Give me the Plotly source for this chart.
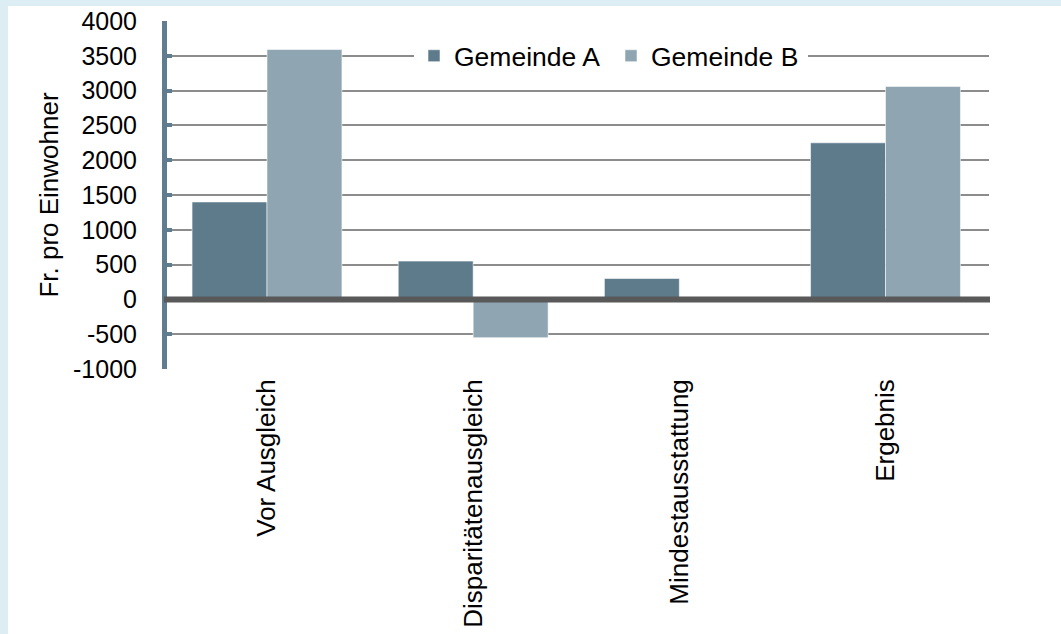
import plotly.graph_objects as go

# Data
categories = ["Vor Ausgleich", "Disparitätenausgleich", "Mindestausstattung", "Ergebnis"]
gemeinde_a = [1400, 550, 300, 2250]
gemeinde_b = [3590, -550, 0, 3060]
series_names = ["Gemeinde A", "Gemeinde B"]
y_ticks = [-1000, -500, 0, 500, 1000, 1500, 2000, 2500, 3000, 3500, 4000]
y_tick_labels = [str(v) for v in y_ticks]

# Styling
W, H = 1061, 634
ML, MR, MT, MB = 167, 72, 21, 265
COLOR_A = "#5E7B8C"
COLOR_B = "#8FA5B1"
AXIS_COLOR = "#5F7D8F"
GRID_COLOR = "#8C8C8C"
ZERO_COLOR = "#595959"
FRAME_COLOR = "#DCEDF4"
FONT = "Liberation Sans, Arial, sans-serif"

fig = go.Figure()
fig.add_trace(go.Bar(
    x=categories, y=gemeinde_a, name=series_names[0],
    marker=dict(color=COLOR_A, line=dict(color="rgba(255,255,255,0.55)", width=1)),
))
fig.add_trace(go.Bar(
    x=categories, y=gemeinde_b, name=series_names[1],
    marker=dict(color=COLOR_B, line=dict(color="rgba(255,255,255,0.55)", width=1)),
))

pw = W - ML - MR
ph = H - MT - MB


def px_to_paper_x(px):
    return (px - ML) / pw


def px_to_paper_y(py):
    return 1 - (py - MT) / ph


shapes = [
    # light blue frame strips at the left and top edge of the page
    dict(type="rect", xref="paper", yref="paper", layer="below",
         x0=px_to_paper_x(0), x1=px_to_paper_x(8),
         y0=px_to_paper_y(H), y1=px_to_paper_y(0),
         fillcolor=FRAME_COLOR, line=dict(width=0)),
    dict(type="rect", xref="paper", yref="paper", layer="below",
         x0=px_to_paper_x(0), x1=px_to_paper_x(W),
         y0=px_to_paper_y(6), y1=px_to_paper_y(0),
         fillcolor=FRAME_COLOR, line=dict(width=0)),
    # heavy zero line drawn over the bars
    dict(type="line", xref="paper", yref="y", layer="above",
         x0=px_to_paper_x(164), x1=px_to_paper_x(990), y0=0, y1=0,
         line=dict(color=ZERO_COLOR, width=6)),
]

fig.update_layout(
    width=W, height=H, autosize=False,
    margin=dict(l=ML, r=MR, t=MT, b=MB, pad=0, autoexpand=False),
    paper_bgcolor="white", plot_bgcolor="white",
    font=dict(family=FONT, size=25, color="black"),
    barmode="group", bargap=0.273, bargroupgap=0,
    showlegend=True,
    legend=dict(
        orientation="h", x=px_to_paper_x(414), y=px_to_paper_y(32),
        xanchor="left", yanchor="top",
        bgcolor="white", font=dict(size=26.5, family=FONT, color="black"),
        itemwidth=30, tracegroupgap=0, entrywidth=152, entrywidthmode="pixels",
    ),
    shapes=shapes,
    xaxis=dict(
        type="category", range=[-0.485, 3.502], automargin=False,
        showgrid=False, zeroline=False, showline=False, ticks="",
        tickangle=-90, tickfont=dict(size=26), ticklabelstandoff=4,
    ),
    yaxis=dict(
        range=[-1000, 4000], tickvals=y_ticks, ticktext=y_tick_labels,
        automargin=False,
        showgrid=True, gridcolor=GRID_COLOR, gridwidth=2,
        zeroline=False,
        showline=True, linecolor=AXIS_COLOR, linewidth=5,
        ticks="inside", ticklen=5, tickwidth=4, tickcolor=AXIS_COLOR,
        tickfont=dict(size=25), ticklabelstandoff=20,
        title=dict(text="Fr. pro Einwohner", font=dict(size=26), standoff=8),
    ),
)

fig.write_html("out.html")
